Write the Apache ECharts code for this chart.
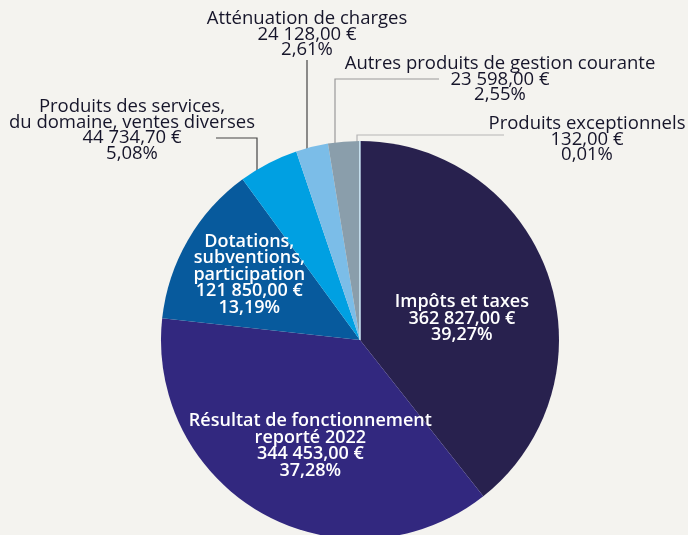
<!DOCTYPE html>
<html>
<head>
<meta charset="utf-8">
<script src="https://cdn.jsdelivr.net/npm/echarts@6/dist/echarts.min.js"></script>
<style>html,body{margin:0;padding:0;background:#f4f3ef;}#c{width:688px;height:535px;}</style>
</head>
<body>
<div id="c"></div>
<script>
const categories = ["Impôts et taxes", "Résultat de fonctionnement\nreporté 2022", "Dotations,\nsubventions,\nparticipation", "Produits des services,\ndu domaine, ventes diverses", "Atténuation de charges", "Autres produits de gestion courante", "Produits exceptionnels"];
const values = [362827.00, 344453.00, 121850.00, 44734.70, 24128.00, 23598.00, 132.00];
const valueLabels = ["362 827,00 €", "344 453,00 €", "121 850,00 €", "44 734,70 €", "24 128,00 €", "23 598,00 €", "132,00 €"];
const pctLabels = ["39,27%", "37,28%", "13,19%", "5,08%", "2,61%", "2,55%", "0,01%"];

const colors = ["#28214e", "#32287f", "#075a9d", "#00a0e2", "#7bbde8", "#8a9eab", "#cde8f7"];
const inside = [true, true, true, false, false, false, false];
// label layout (style/placement only)
const insideShift = {0: [5, 12], 1: [0, 16], 2: [-22, -14]};
const outsidePlace = {
  3: {x: 132, y: 99, line: [[257, 175], [257, 138], [216, 138]]},
  4: {x: 307, y: 11, line: [[307, 157], [307, 60]]},
  5: {x: 500, y: 56, line: [[335, 148], [335, 79], [439, 79]]},
  6: {x: 587, y: 116, line: [[357, 145], [357, 135], [504, 135]]}
};
const lineColors = {3: "#444", 4: "#444", 5: "#999", 6: "#b5b5b5"};

const font = "Open Sans";
const data = categories.map((n, i) => ({
  name: n,
  value: values[i],
  itemStyle: i === 6 ? {color: colors[i], borderColor: colors[i], borderWidth: 1} : {color: colors[i]},
  label: inside[i] ? {
    show: true, position: 'inside', color: '#ffffff', fontSize: 18, fontWeight: 600, lineHeight: 16.5, fontFamily: font
  } : {
    show: true, position: 'outside', color: '#16152a', fontSize: 18.5, fontWeight: 'normal', lineHeight: 15.5, fontFamily: font
  },
  labelLine: inside[i] ? {show: false} : {show: true, lineStyle: {color: lineColors[i], width: 1.2}}
}));

const chart = echarts.init(document.getElementById('c'), null, {renderer: 'canvas'});
chart.setOption({
  backgroundColor: '#f4f3ef',
  animation: false,
  series: [{
    type: 'pie',
    center: [360, 340],
    radius: [0, 199],
    startAngle: 90,
    clockwise: true,
    avoidLabelOverlap: false,
    minShowLabelAngle: 0,
    data: data,
    label: {
      show: true,
      align: 'center',
      formatter: p => p.name + '\n' + valueLabels[p.dataIndex] + '\n' + pctLabels[p.dataIndex]
    },
    labelLine: {smooth: false},
    labelLayout: function (params) {
      const i = params.dataIndex;
      if (insideShift[i]) {
        return {dx: insideShift[i][0], dy: insideShift[i][1]};
      }
      const o = outsidePlace[i];
      if (o) {
        return {x: o.x, y: o.y, align: 'center', verticalAlign: 'top', labelLinePoints: o.line};
      }
      return {};
    }
  }]
});
</script>
</body>
</html>
